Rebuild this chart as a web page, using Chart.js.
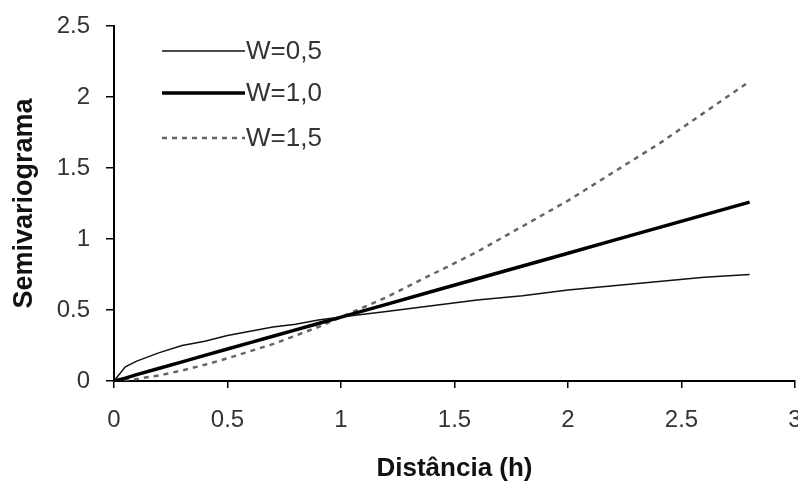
<!DOCTYPE html>
<html>
<head>
<meta charset="utf-8">
<script src="https://cdn.jsdelivr.net/npm/chart.js@4"></script>
<style>
  html, body { margin: 0; padding: 0; background: #fff; overflow: hidden; }
  #wrap { width: 798px; height: 484px; }
</style>
</head>
<body>
<div id="wrap"><canvas id="semiGraph"></canvas></div>
<script>
// distância h (eixo x)
const distances = [0, 0.05, 0.1, 0.2, 0.3, 0.4, 0.5, 0.6, 0.7, 0.8, 0.9, 1.0, 1.2, 1.4, 1.6, 1.8, 2.0, 2.2, 2.4, 2.6, 2.8];
// valores
const w05 = [0, 0.10, 0.14, 0.20, 0.25, 0.28, 0.32, 0.35, 0.38, 0.40, 0.43, 0.45, 0.49, 0.53, 0.57, 0.60, 0.64, 0.67, 0.70, 0.73, 0.75];
const w10 = [0, 0.02, 0.045, 0.09, 0.135, 0.18, 0.225, 0.27, 0.315, 0.36, 0.405, 0.45, 0.54, 0.63, 0.72, 0.81, 0.90, 0.99, 1.08, 1.17, 1.26];
const w15 = [0, 0.005, 0.014, 0.04, 0.074, 0.114, 0.16, 0.21, 0.26, 0.32, 0.38, 0.45, 0.59, 0.75, 0.91, 1.09, 1.27, 1.47, 1.67, 1.89, 2.11];
const seriesLabels = ['W=0,5', 'W=1,0', 'W=1,5'];
const xTicks = [0, 0.5, 1, 1.5, 2, 2.5, 3];
const yTicks = [0, 0.5, 1, 1.5, 2, 2.5];

const FONT = "'Liberation Sans', Arial, sans-serif";

function toPoints(ys) {
    return distances.map((x, i) => ({ x: x, y: ys[i] }));
}

// legenda desenhada dentro da área do gráfico
const insideLegend = {
    id: 'insideLegend',
    afterDraw(chart) {
        const ctx = chart.ctx;
        const rows = [51, 93, 138];
        ctx.save();
        chart.data.datasets.forEach((ds, i) => {
            const y = rows[i];
            ctx.beginPath();
            ctx.strokeStyle = ds.borderColor;
            ctx.lineWidth = ds.borderWidth;
            ctx.setLineDash(ds.borderDash || []);
            ctx.moveTo(162, y);
            ctx.lineTo(245, y);
            ctx.stroke();
            ctx.setLineDash([]);
            ctx.fillStyle = '#333';
            ctx.font = '26px ' + FONT;
            ctx.textBaseline = 'middle';
            ctx.textAlign = 'left';
            ctx.fillText(ds.label, 246, y + 1);
        });
        ctx.restore();
    }
};

const ctx = document.getElementById('semiGraph').getContext('2d');

new Chart(ctx, {
    type: 'line',
    data: {
        datasets: [
            {
                label: seriesLabels[0],
                data: toPoints(w05),
                borderColor: '#111',
                borderWidth: 1.5,
                pointRadius: 0,
                fill: false,
                tension: 0
            },
            {
                label: seriesLabels[1],
                data: toPoints(w10),
                borderColor: '#000',
                borderWidth: 3.5,
                pointRadius: 0,
                fill: false,
                tension: 0
            },
            {
                label: seriesLabels[2],
                data: toPoints(w15),
                borderColor: '#666',
                borderWidth: 2.5,
                borderDash: [5, 5],
                pointRadius: 0,
                fill: false,
                tension: 0
            }
        ]
    },
    options: {
        responsive: true,
        maintainAspectRatio: false,
        animation: false,
        layout: { padding: { top: 26, right: 3, left: 0, bottom: 0 } },
        plugins: {
            legend: { display: false },
            tooltip: { enabled: false }
        },
        scales: {
            x: {
                type: 'linear',
                min: 0,
                max: 3,
                afterBuildTicks: s => { s.ticks = xTicks.map(v => ({ value: v })); },
                afterFit: s => { s.height = 103; s.paddingLeft = 0; s.paddingRight = 0; },
                grid: { display: true, drawOnChartArea: false, drawTicks: true, tickLength: 7, color: '#000', lineWidth: 1.5 },
                border: { display: true, color: '#000', width: 2 },
                ticks: { color: '#333', font: { family: FONT, size: 24 }, padding: 18, maxRotation: 0,
                         callback: v => String(v) },
                title: {
                    display: true,
                    text: 'Distância (h)',
                    color: '#111',
                    font: { family: FONT, size: 26, weight: 'bold' },
                    padding: { top: 2, bottom: 0 }
                }
            },
            y: {
                min: 0,
                max: 2.5,
                afterBuildTicks: s => { s.ticks = yTicks.map(v => ({ value: v })); },
                afterFit: s => { s.width = 114; s.paddingTop = 0; s.paddingBottom = 0; },
                grid: { display: true, drawOnChartArea: false, drawTicks: true, tickLength: 8, color: '#000', lineWidth: 1.5 },
                border: { display: true, color: '#000', width: 2 },
                ticks: { color: '#333', font: { family: FONT, size: 24 }, padding: 16,
                         callback: v => String(v) },
                title: {
                    display: true,
                    text: 'Semivariograma',
                    color: '#111',
                    font: { family: FONT, size: 27, weight: 'bold' },
                    padding: { top: 8, bottom: 0 }
                }
            }
        }
    },
    plugins: [insideLegend]
});
</script>
</body>
</html>
